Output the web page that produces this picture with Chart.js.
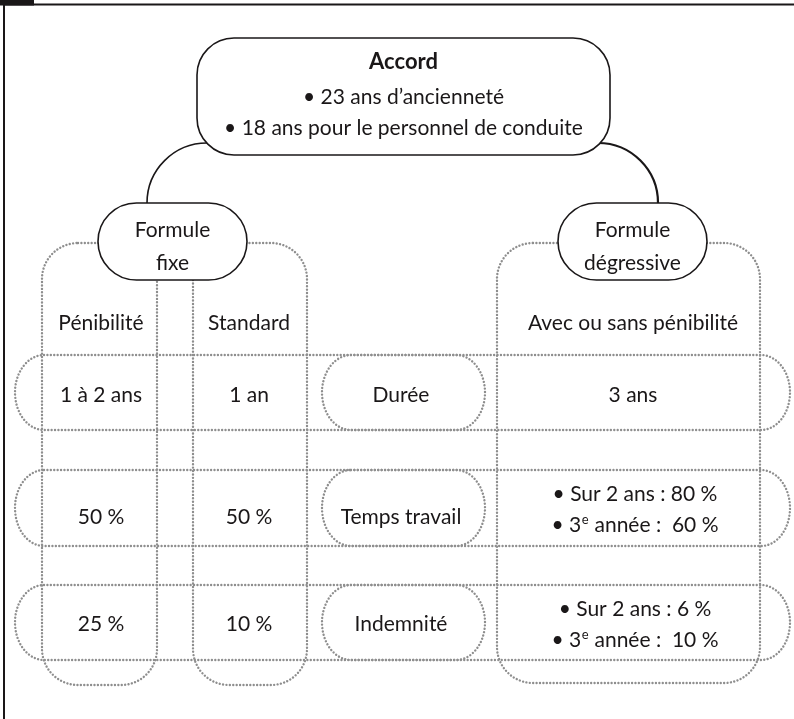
<!DOCTYPE html>
<html>
<head>
<meta charset="utf-8">
<script src="https://cdn.jsdelivr.net/npm/chart.js@4/dist/chart.umd.min.js"></script>
<style>
  html, body { margin: 0; padding: 0; background: #ffffff; }
  #wrap { width: 794px; height: 719px; position: relative; }
</style>
</head>
<body>
<div id="wrap"><canvas id="c" width="794" height="719"></canvas></div>
<script>
// ---- Content ----
const accordTitle = "Accord";
const accordConditions = ["• 23 ans d’ancienneté", "• 18 ans pour le personnel de conduite"];
const formulas = [["Formule", "fixe"], ["Formule", "dégressive"]];
const populations = ["Pénibilité", "Standard", "Avec ou sans pénibilité"];
const criteria = ["Durée", "Temps travail", "Indemnité"];
const penibiliteValues = ["1 à 2 ans", "50 %", "25 %"];
const standardValues = ["1 an", "50 %", "10 %"];
const degressiveValues = [
  ["3 ans"],
  ["• Sur 2 ans : 80 %", "• 3^e année :  60 %"],
  ["• Sur 2 ans : 6 %", "• 3^e année :  10 %"]
];

// ---- Layout in scale units (x: 0..794, y: 0..719 top-down) ----
const layout = {
  frame: { x: 4, y: 4.5, tabW: 34 },
  accordBox: { x0: 197, y0: 38, x1: 610, y1: 155, r: 37, lineY: [61, 96, 127] },
  branchArcs: [ { cx: 207, cy: 203, r: 60, side: -1 }, { cx: 598, cy: 203, r: 60, side: 1 } ],
  formulaBoxes: [ { x0: 98, y0: 203, x1: 247, y1: 280 }, { x0: 558, y0: 203, x1: 707, y1: 280 } ],
  formulaLineY: [229, 262],
  columns: [ { x0: 42, x1: 157 }, { x0: 193, x1: 307 }, { x0: 497, x1: 760 } ],
  columnTop: 243, columnBottom: [685, 685, 683],
  populationY: 322,
  rows: [ { y0: 355, y1: 430 }, { y0: 470, y1: 546 }, { y0: 585, y1: 660 } ],
  rowX: [15, 790],
  pillX: [322, 485],
  colCenters: [101, 249, 633], criteriaX: 401,
  textY: [394, 516, 623], multiLineOffset: 15.5
};

const INK = '#1a1718';
const DOT = '#8e8e8e';
const FONT = 'Lato, "Open Sans", sans-serif';
const FS = 21;

function rrect(ctx, x0, y0, x1, y1, rx, ry) {
  const P = Math.PI;
  ctx.beginPath();
  ctx.moveTo(x0 + rx, y0);
  ctx.lineTo(x1 - rx, y0);
  ctx.ellipse(x1 - rx, y0 + ry, rx, ry, 0, -P / 2, 0);
  ctx.lineTo(x1, y1 - ry);
  ctx.ellipse(x1 - rx, y1 - ry, rx, ry, 0, 0, P / 2);
  ctx.lineTo(x0 + rx, y1);
  ctx.ellipse(x0 + rx, y1 - ry, rx, ry, 0, P / 2, P);
  ctx.lineTo(x0, y0 + ry);
  ctx.ellipse(x0 + rx, y0 + ry, rx, ry, 0, P, 1.5 * P);
  ctx.closePath();
}

function drawLabel(ctx, str, cx, cy, bold) {
  const size = bold ? FS + 1 : FS;
  const font = (bold ? 'bold ' : '') + size + 'px ' + FONT;
  const supFont = Math.round(FS * 0.6) + 'px ' + FONT;
  ctx.fillStyle = INK;
  ctx.textBaseline = 'alphabetic';
  ctx.textAlign = 'left';
  const base = cy + size * 0.36;
  const parts = str.split('^e');
  if (parts.length === 1) {
    ctx.font = font;
    const w = ctx.measureText(str).width;
    ctx.fillText(str, cx - w / 2, base);
    return;
  }
  ctx.font = font; const w1 = ctx.measureText(parts[0]).width;
  ctx.font = supFont; const w2 = ctx.measureText('e').width + 1;
  ctx.font = font; const w3 = ctx.measureText(parts[1]).width;
  let x = cx - (w1 + w2 + w3) / 2;
  ctx.font = font; ctx.fillText(parts[0], x, base); x += w1;
  ctx.font = supFont; ctx.fillText('e', x + 0.5, base - FS * 0.38); x += w2;
  ctx.font = font; ctx.fillText(parts[1], x, base);
}

const diagramPlugin = {
  id: 'diagram',
  afterDraw(chart) {
    const ctx = chart.ctx;
    const sx = chart.scales.x, sy = chart.scales.y;
    const X = v => sx.getPixelForValue(v);
    const Y = v => sy.getPixelForValue(v);
    const L = layout;
    ctx.save();

    // frame
    ctx.strokeStyle = INK; ctx.lineWidth = 2; ctx.setLineDash([]);
    ctx.beginPath();
    ctx.moveTo(X(L.frame.x), Y(719)); ctx.lineTo(X(L.frame.x), Y(L.frame.y)); ctx.lineTo(X(794), Y(L.frame.y));
    ctx.stroke();
    ctx.fillStyle = INK;
    ctx.fillRect(X(0), Y(0), X(L.frame.tabW) - X(0), Y(L.frame.y + 1) - Y(0));

    // dotted columns
    ctx.strokeStyle = DOT; ctx.lineWidth = 2.4; ctx.setLineDash([0.01, 3.4]); ctx.lineCap = 'round';
    L.columns.forEach((c, i) => {
      rrect(ctx, X(c.x0), Y(L.columnTop), X(c.x1), Y(L.columnBottom[i]), 36, 36);
      ctx.stroke();
    });
    // dotted rows
    L.rows.forEach(r => {
      rrect(ctx, X(L.rowX[0]), Y(r.y0), X(L.rowX[1]), Y(r.y1), 29, (Y(r.y1) - Y(r.y0)) / 2);
      ctx.stroke();
      rrect(ctx, X(L.pillX[0]), Y(r.y0), X(L.pillX[1]), Y(r.y1), 29, (Y(r.y1) - Y(r.y0)) / 2);
      ctx.stroke();
    });

    // solid parts
    ctx.setLineDash([]); ctx.lineCap = 'butt';
    ctx.strokeStyle = INK;
    L.branchArcs.forEach((a, i) => {
      ctx.lineWidth = i === 0 ? 1.6 : 2.2;
      ctx.beginPath();
      if (a.side < 0) ctx.arc(X(a.cx), Y(a.cy), a.r, 1.5 * Math.PI, Math.PI, true);
      else ctx.arc(X(a.cx), Y(a.cy), a.r, 1.5 * Math.PI, 2 * Math.PI, false);
      ctx.stroke();
    });
    ctx.lineWidth = 1.6;
    const ab = L.accordBox;
    rrect(ctx, X(ab.x0), Y(ab.y0), X(ab.x1), Y(ab.y1), ab.r, ab.r);
    ctx.fillStyle = '#ffffff'; ctx.fill(); ctx.stroke();
    L.formulaBoxes.forEach(b => {
      const h = (Y(b.y1) - Y(b.y0)) / 2;
      rrect(ctx, X(b.x0), Y(b.y0), X(b.x1), Y(b.y1), h, h);
      ctx.fillStyle = '#ffffff'; ctx.fill(); ctx.stroke();
    });

    // texts
    const acx = (X(ab.x0) + X(ab.x1)) / 2;
    drawLabel(ctx, accordTitle, acx, Y(ab.lineY[0]), true);
    accordConditions.forEach((t, i) => drawLabel(ctx, t, acx, Y(ab.lineY[i + 1]), false));
    formulas.forEach((f, i) => {
      const b = L.formulaBoxes[i];
      const cx = (X(b.x0) + X(b.x1)) / 2;
      f.forEach((t, j) => drawLabel(ctx, t, cx, Y(L.formulaLineY[j]), false));
    });
    populations.forEach((p, i) => drawLabel(ctx, p, X(L.colCenters[i]), Y(L.populationY), false));
    criteria.forEach((c, i) => {
      drawLabel(ctx, c, X(L.criteriaX), Y(L.textY[i]), false);
      drawLabel(ctx, penibiliteValues[i], X(L.colCenters[0]), Y(L.textY[i]), false);
      drawLabel(ctx, standardValues[i], X(L.colCenters[1]), Y(L.textY[i]), false);
      const lines = degressiveValues[i];
      const mid = (Y(L.rows[i].y0) + Y(L.rows[i].y1)) / 2 + 1;
      if (lines.length === 1) drawLabel(ctx, lines[0], X(L.colCenters[2]), Y(L.textY[i]), false);
      else lines.forEach((t, j) => drawLabel(ctx, t, X(L.colCenters[2]) + 2, mid + (j === 0 ? -L.multiLineOffset : L.multiLineOffset), false));
    });
    ctx.restore();
  }
};

new Chart(document.getElementById('c'), {
  type: 'scatter',
  data: { datasets: [{ data: [], pointRadius: 0 }] },
  options: {
    responsive: false,
    animation: false,
    events: [],
    layout: { padding: 0 },
    plugins: { legend: { display: false }, tooltip: { enabled: false } },
    scales: {
      x: { type: 'linear', min: 0, max: 794, display: false },
      y: { type: 'linear', min: 0, max: 719, reverse: true, display: false }
    }
  },
  plugins: [diagramPlugin]
});
</script>
</body>
</html>
